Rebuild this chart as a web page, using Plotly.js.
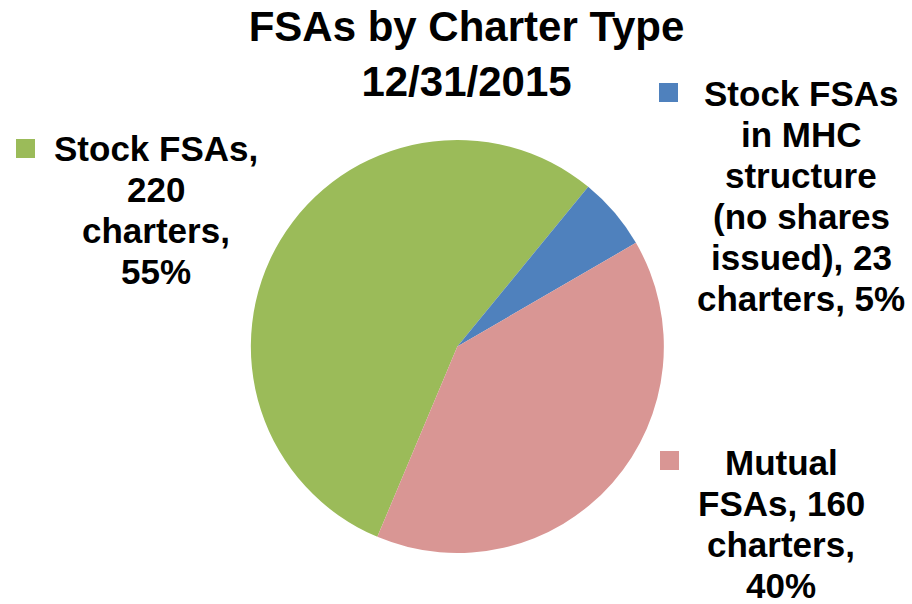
<!DOCTYPE html>
<html><head><meta charset="utf-8">
<script src="https://cdn.plot.ly/plotly-3.0.1.min.js"></script>
<style>html,body{margin:0;padding:0;background:#fff}#chart{width:912px;height:604px}</style>
</head><body><div id="chart"></div>
<script>
// ---- data ----
const categories = ["Stock FSAs", "Stock FSAs in MHC structure (no shares issued)", "Mutual FSAs"];
const charters = [220, 23, 160];
const percents = [55, 5, 40];
const colors = ["#9BBB59", "#4F81BD", "#D99694"];
const titleLines = ["FSAs by Charter Type", "12/31/2015"];
const labelLines = [
  ["Stock FSAs,", String(charters[0]), "charters,", percents[0] + "%"],
  ["Stock FSAs", "in MHC", "structure", "(no shares", "issued), " + charters[1], "charters, " + percents[1] + "%"],
  ["Mutual", "FSAs, " + charters[2], "charters,", percents[2] + "%"]
];

// ---- layout helpers ----
const W = 912, H = 604;
const px = x => x / W;
const py = y => 1 - y / H;
const FONT = "Liberation Sans, Arial, Helvetica, sans-serif";
const labelFont = 35;
const lineGap = 41;
const labelPos = [
  {cx: 156, base: 161, sq: [16, 139]},
  {cx: 801, base: 106, sq: [659, 83]},
  {cx: 781, base: 475, sq: [660, 451]}
];
const sqSize = 19;

const annotations = [];
const shapes = [];
labelLines.forEach((lines, i) => {
  const p = labelPos[i];
  lines.forEach((t, j) => {
    annotations.push({
      xref: 'paper', yref: 'paper', x: px(p.cx), y: py(p.base + j * lineGap - labelFont * 0.35),
      xanchor: 'center', yanchor: 'middle', showarrow: false, text: t,
      font: {family: FONT, size: labelFont, color: '#000', weight: 'bold'}
    });
  });
  shapes.push({
    type: 'rect', xref: 'paper', yref: 'paper',
    x0: px(p.sq[0]), x1: px(p.sq[0] + sqSize), y0: py(p.sq[1] + sqSize), y1: py(p.sq[1]),
    fillcolor: colors[i], line: {width: 0}
  });
});

const trace = {
  type: 'pie',
  labels: categories,
  values: charters,
  marker: {colors: colors, line: {width: 0}},
  sort: false,
  direction: 'clockwise',
  rotation: -157.2,
  textinfo: 'none',
  hoverinfo: 'label+value+percent',
  showlegend: false,
  domain: {x: [px(250.7), px(664)], y: [py(553), py(140)]}
};

const layout = {
  width: W, height: H,
  margin: {l: 0, r: 0, t: 0, b: 0},
  paper_bgcolor: '#fff',
  showlegend: false,
  title: {
    text: titleLines.join('<br>'),
    x: px(466.5), xanchor: 'center', xref: 'container',
    y: 1 - 41 / H, yanchor: 'top', yref: 'container',
    font: {family: FONT, size: 42, color: '#000', weight: 'bold'}
  },
  annotations: annotations,
  shapes: shapes
};

Plotly.newPlot('chart', [trace], layout, {displayModeBar: false, staticPlot: true});
</script>
</body></html>
